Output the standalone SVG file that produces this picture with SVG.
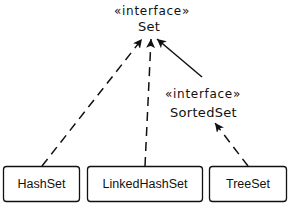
<svg xmlns="http://www.w3.org/2000/svg" width="291" height="213" viewBox="0 0 291 213">
<style>
text{font-family:"Liberation Sans",Arial,sans-serif;font-size:12.5px;fill:#111;text-anchor:middle}
.iface{font-family:"DejaVu Sans","Liberation Sans",sans-serif;font-size:12px;letter-spacing:0.7px}
.name{font-family:"DejaVu Sans","Liberation Sans",sans-serif;font-size:13px;letter-spacing:0.3px}
.box{fill:#fff;stroke:#111;stroke-width:1.3}
.dash{stroke:#111;stroke-width:1.5;stroke-dasharray:9,6;fill:none}
.solid{stroke:#111;stroke-width:1.5;fill:none}
</style>
<defs>
<marker id="ah" viewBox="0 0 10 10" refX="10" refY="5" markerWidth="9" markerHeight="9" markerUnits="userSpaceOnUse" orient="auto">
<path d="M0,0 L10,5 L0,10 L2.5,5 Z" fill="#111"/>
</marker>
</defs>
<rect width="291" height="213" fill="#fff"/>
<g id="connectors">
<line class="dash" x1="42" y1="166" x2="142" y2="39" marker-end="url(#ah)"/>
<line class="dash" x1="145" y1="166" x2="151" y2="39" marker-end="url(#ah)"/>
<line class="solid" x1="202" y1="77" x2="157" y2="39" marker-end="url(#ah)"/>
<line class="dash" x1="248" y1="166" x2="215" y2="123" marker-end="url(#ah)"/>
</g>
<g id="Set">
<text class="iface" x="152" y="15">«interface»</text>
<text class="name" x="149" y="30.5">Set</text>
</g>
<g id="SortedSet">
<text class="iface" x="203" y="98">«interface»</text>
<text class="name" x="203.5" y="117">SortedSet</text>
</g>
<g id="HashSet">
<rect class="box" x="3.5" y="166.5" width="76" height="35" rx="3"/>
<text x="41.5" y="188">HashSet</text>
</g>
<g id="LinkedHashSet">
<rect class="box" x="87.5" y="166.5" width="115" height="35" rx="3"/>
<text x="145" y="188">LinkedHashSet</text>
</g>
<g id="TreeSet">
<rect class="box" x="209.5" y="166.5" width="77" height="35" rx="3"/>
<text x="248" y="188">TreeSet</text>
</g>
</svg>
